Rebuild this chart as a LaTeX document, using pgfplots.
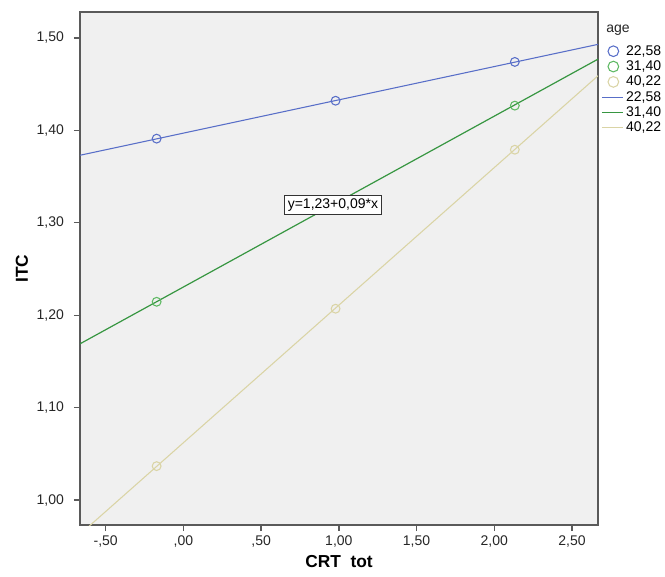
\documentclass[border=0pt]{standalone}
\usepackage{pgfplots}
\pgfplotsset{compat=1.18}
\usepackage{fontspec}
\setmainfont{Liberation Sans}

\definecolor{bgc}{RGB}{240,240,240}
\definecolor{ablue}{RGB}{88,110,200}
\definecolor{agreen}{RGB}{55,150,65}
\definecolor{agreenm}{RGB}{95,185,100}
\definecolor{atan}{RGB}{218,212,165}
\definecolor{frame}{RGB}{90,90,90}

\begin{document}
\begin{tikzpicture}
% 1px = 0.75pt, picture 665x576 px
\useasboundingbox (-60pt,-38.25pt) rectangle (438.75pt,393.75pt);
\begin{axis}[
    at={(0,0)}, anchor=south west,
    scale only axis, width=388.5pt, height=384.75pt,
    xmin=-0.665, xmax=2.667,
    ymin=0.973, ymax=1.528,
    axis background/.style={fill=bgc},
    axis line style={frame, line width=1pt},
    tick align=outside, xtick pos=bottom, ytick pos=left,
    major tick length=4.5pt,
    tick style={frame, line width=1pt},
    xtick={-0.5,0,0.5,1,1.5,2,2.5},
    xticklabels={{-,50},{,00},{,50},{1,00},{1,50},{2,00},{2,50}},
    ytick={1,1.1,1.2,1.3,1.4,1.5},
    yticklabels={{1,00},{1,10},{1,20},{1,30},{1,40},{1,50}},
    ticklabel style={font=\fontsize{10.5}{12}\selectfont, text=black!85},
    yticklabel style={xshift=-4pt},
    xlabel={\textbf{CRT\ \ tot}},
    ylabel={\textbf{ITC}},
    label style={font=\fontsize{13}{15}\selectfont},
    xlabel style={at={(axis description cs:0.5,-0.072)}, anchor=center},
    ylabel style={at={(axis description cs:-0.112,0.5)}, anchor=center},
    legend style={at={(1.006,0.939)}, anchor=north west, draw=none, fill=none,
        font=\fontsize{10.5}{12}\selectfont, inner sep=0pt, row sep=0pt,
        nodes={inner sep=0.6pt, text height=8pt, text depth=2.3pt}},
    legend cell align=left,
    legend image post style={mark size=4pt},
    clip mode=individual,
]
% fit lines
\addplot[forget plot, draw=ablue, line width=0.8pt] coordinates {(-0.665,1.373) (2.667,1.493)};
\addplot[forget plot, draw=agreen, line width=0.9pt] coordinates {(-0.665,1.169) (2.667,1.477)};
\addplot[forget plot, draw=atan, line width=0.8pt] coordinates {(-0.665,0.963) (2.667,1.459)};

% group means (middle 31,40 mean is hidden under the equation box)
\addplot[only marks, mark=o, mark size=3.3pt, ablue, line width=0.8pt]
  coordinates {(-0.172,1.391) (0.979,1.432) (2.132,1.474)};
\addlegendentry{22,58}
\addplot[only marks, mark=o, mark size=3.3pt, agreenm, line width=0.8pt]
  coordinates {(-0.172,1.2145) (2.132,1.4267)};
\addlegendentry{31,40}
\addplot[only marks, mark=o, mark size=3.3pt, atan, line width=0.8pt]
  coordinates {(-0.172,1.0367) (0.979,1.207) (2.132,1.379)};
\addlegendentry{40,22}

\addlegendimage{draw=ablue, line width=0.8pt, shorten >=1.5pt}
\addlegendentry{22,58}
\addlegendimage{draw=agreen, line width=0.9pt, shorten >=1.5pt}
\addlegendentry{31,40}
\addlegendimage{draw=atan, line width=0.8pt, shorten >=1.5pt}
\addlegendentry{40,22}

\node[font=\fontsize{10.5}{12}\selectfont, text=black!85]
  at (axis description cs:1.0386,0.965) {age};

\node[draw=black!80, fill=white, line width=0.6pt, inner sep=2.5pt,
      font=\fontsize{10.5}{12}\selectfont] at (axis cs:0.962,1.3194) {y=1,23+0,09*x};
\end{axis}
\end{tikzpicture}
\end{document}
